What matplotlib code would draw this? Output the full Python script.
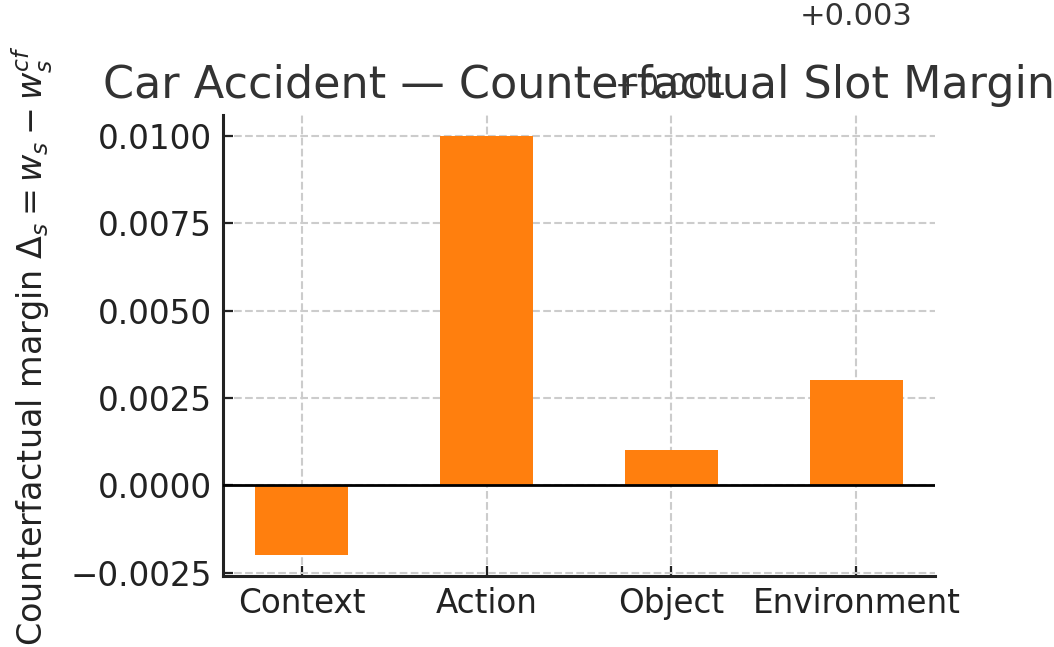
import numpy as np
import matplotlib
matplotlib.use("Agg")
import matplotlib.pyplot as plt
from matplotlib.ticker import MultipleLocator

# slot margins
slots = ["Context", "Action", "Object", "Environment"]
margins = [-0.002, 0.010, 0.001, 0.003]

TXT = "#333333"
plt.rcParams["font.family"] = "DejaVu Sans"

fig = plt.figure(figsize=(10.54, 6.47), dpi=100)
ax = fig.add_axes([0.2116, 0.1097, 0.6755, 0.7126])

x = np.arange(len(slots))
ax.bar(x, margins, width=0.5, color="#ff7f0e", zorder=2)
ax.axhline(0, color="black", linewidth=2, zorder=3)

# value labels (offset is large compared with the data, most land off the figure)
for xi, v in zip(x, margins):
    if v >= 0:
        ax.text(xi, v + 0.01, f"{v:+.3f}", ha="center", va="bottom",
                fontsize=22, color=TXT, clip_on=False)
    else:
        ax.text(xi, v - 0.01, f"{v:+.3f}", ha="center", va="top",
                fontsize=22, color=TXT, clip_on=False)

ax.set_xticks(x)
ax.set_xticklabels(slots)
ax.yaxis.set_major_locator(MultipleLocator(0.0025))
ax.set_title("Car Accident — Counterfactual Slot Margin", fontsize=32,
             color=TXT, pad=12)
ax.set_ylabel(r"Counterfactual margin $\Delta_s = w_s - w_s^{cf}$",
              fontsize=24, color="#222222")
ax.yaxis.set_label_coords(-0.237, 0.5)

ax.grid(True, linestyle="--", color="#cccccc", linewidth=1.5, zorder=0)
ax.set_axisbelow(True)
for side in ["top", "right"]:
    ax.spines[side].set_visible(False)
for side in ["left", "bottom"]:
    ax.spines[side].set_color("#222222")
    ax.spines[side].set_linewidth(2.2)
ax.tick_params(direction="in", length=7, width=1.6, labelsize=23.5,
               colors="#222222", pad=8)

fig.savefig("out.png", dpi=100)
